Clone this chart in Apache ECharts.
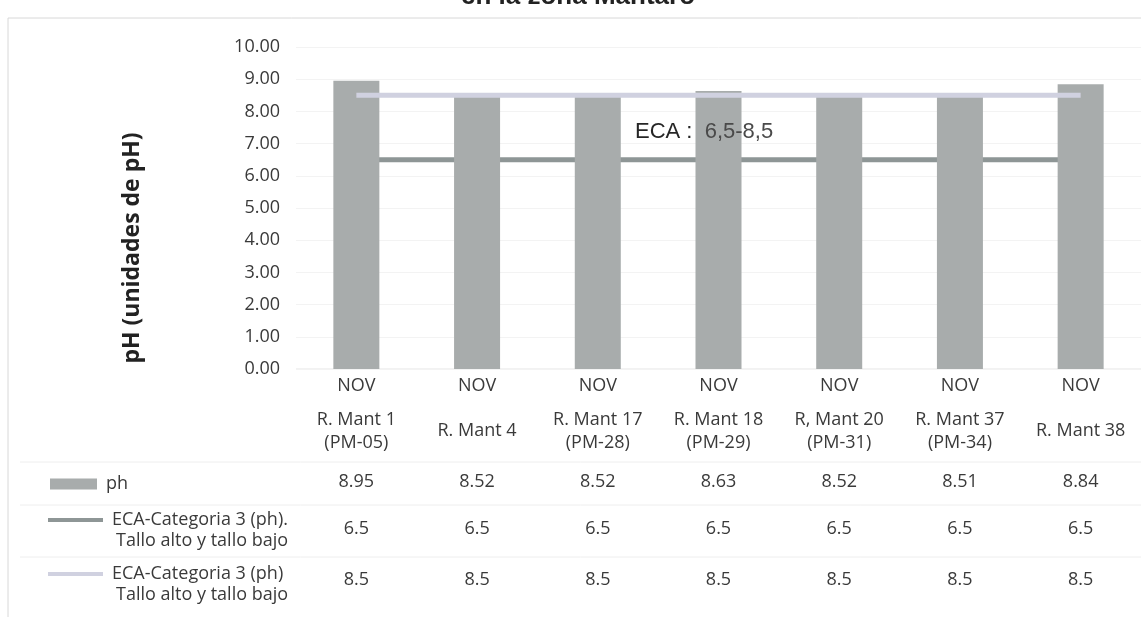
<!DOCTYPE html>
<html>
<head>
<meta charset="utf-8">
<script src="https://cdn.jsdelivr.net/npm/echarts@6/dist/echarts.min.js"></script>
<style>
  html, body { margin: 0; padding: 0; background: #fff; }
  #chart { width: 1141px; height: 617px; }
</style>
</head>
<body>
<div id="chart"></div>
<script>
const months = ['NOV', 'NOV', 'NOV', 'NOV', 'NOV', 'NOV', 'NOV'];
const stations = [
  'R. Mant 1\n(PM-05)', 'R. Mant 4', 'R. Mant 17\n(PM-28)', 'R. Mant 18\n(PM-29)',
  'R, Mant 20\n(PM-31)', 'R. Mant 37\n(PM-34)', 'R. Mant 38'
];
const phValues = [8.95, 8.52, 8.52, 8.63, 8.52, 8.51, 8.84];
const ecaLow = [6.5, 6.5, 6.5, 6.5, 6.5, 6.5, 6.5];
const ecaHigh = [8.5, 8.5, 8.5, 8.5, 8.5, 8.5, 8.5];
const yTicks = { min: 0, max: 10, interval: 1 };

const NAME_PH = 'ph';
const NAME_LOW = 'ECA-Categoria 3 (ph). Tallo alto y tallo bajo';
const NAME_HIGH = 'ECA-Categoria 3 (ph) Tallo alto y tallo bajo';

const FONT = '"Open Sans", "Noto Sans", sans-serif';
const TXT = '#3a3a3a';
const FS = 18;

const chart = echarts.init(document.getElementById('chart'), null, { renderer: 'canvas' });

// extra bottom axes act as the rows of the data table
function tableAxis(data, offset) {
  return {
    type: 'category',
    gridIndex: 0,
    position: 'bottom',
    offset: offset,
    data: data,
    axisLine: { show: false },
    axisTick: { show: false },
    axisLabel: {
      interval: 0, margin: 0, verticalAlign: 'middle',
      color: TXT, fontFamily: FONT, fontSize: FS, lineHeight: 23
    }
  };
}

function firstLine(name) {
  return name.replace(' Tallo alto y tallo bajo', '');
}

const legendText = { color: TXT, fontFamily: FONT, fontSize: FS, padding: [0, 0, 0, 4] };

chart.setOption({
  backgroundColor: '#fff',
  animation: false,
  grid: { left: 296, right: -15, top: 47, bottom: 248, containLabel: false },
  legend: [
    {
      data: [NAME_PH], left: 50, top: 475, padding: 0, itemWidth: 47, itemHeight: 11,
      icon: 'rect', textStyle: legendText, selectedMode: false
    },
    {
      data: [NAME_LOW], left: 48, top: 511, padding: 0, itemWidth: 55, itemHeight: 4,
      icon: 'rect', formatter: firstLine, textStyle: legendText, selectedMode: false
    },
    {
      data: [NAME_HIGH], left: 48, top: 565, padding: 0, itemWidth: 55, itemHeight: 4,
      icon: 'rect', formatter: firstLine, textStyle: legendText, selectedMode: false
    }
  ],
  xAxis: [
    {
      type: 'category',
      data: months,
      offset: 17,
      axisLine: { show: false },
      axisTick: { show: false },
      axisLabel: {
        interval: 0, margin: 0, verticalAlign: 'middle',
        color: TXT, fontFamily: FONT, fontSize: FS
      }
    },
    tableAxis(stations, 62),
    tableAxis(phValues.map(v => v.toFixed(2)), 113),
    tableAxis(ecaLow, 160),
    tableAxis(ecaHigh, 211)
  ],
  yAxis: {
    type: 'value',
    min: yTicks.min, max: yTicks.max, interval: yTicks.interval,
    axisLine: { show: false },
    axisTick: { show: false },
    axisLabel: {
      margin: 16, color: TXT, fontFamily: FONT, fontSize: FS,
      formatter: v => v.toFixed(2)
    },
    splitLine: { lineStyle: { color: '#f3f3f3' } }
  },
  series: [
    {
      name: NAME_LOW, type: 'line', data: ecaLow, z: 1,
      symbol: 'none', lineStyle: { color: '#8e9696', width: 5 },
      itemStyle: { color: '#8e9696' }
    },
    {
      name: NAME_PH, type: 'bar', data: phValues, z: 2, barWidth: 46,
      itemStyle: { color: '#a8acac' }
    },
    {
      name: NAME_HIGH, type: 'line', data: ecaHigh, z: 3,
      symbol: 'none', lineStyle: { color: '#d0d1e0', width: 5 },
      itemStyle: { color: '#d0d1e0' }
    }
  ],
  graphic: [
    {
      type: 'text', x: 578, y: -16, z: 100,
      style: {
        text: 'en la zona Mantaro', fill: '#222', align: 'center',
        font: 'bold 26px "Liberation Sans", Arial, sans-serif'
      }
    },
    {
      type: 'rect', silent: true, z: -10,
      shape: { x: 8, y: 18, width: 1140, height: 610 },
      style: { fill: 'none', stroke: '#d8d8d8', lineWidth: 1 }
    },
    {
      type: 'text', x: 132, y: 248, rotation: Math.PI / 2, z: 100,
      style: {
        text: 'pH (unidades de pH)', fill: '#222', align: 'center', verticalAlign: 'middle',
        font: 'bold 23px "Open Sans", "Noto Sans", sans-serif'
      }
    },
    {
      type: 'text', left: 635, top: 121, z: 100,
      style: {
        text: '{a|ECA :}  {b|6,5-8,5}',
        font: '22px "Liberation Sans", Arial, sans-serif',
        rich: {
          a: { fill: '#262626', font: '22px "Liberation Sans", Arial, sans-serif' },
          b: { fill: '#4a4a4a', font: '22px "Liberation Sans", Arial, sans-serif' }
        }
      }
    },
    {
      type: 'text', left: 116, top: 532, z: 100,
      style: { text: 'Tallo alto y tallo bajo', fill: TXT, font: FS + 'px "Open Sans", "Noto Sans", sans-serif' }
    },
    {
      type: 'text', left: 116, top: 586, z: 100,
      style: { text: 'Tallo alto y tallo bajo', fill: TXT, font: FS + 'px "Open Sans", "Noto Sans", sans-serif' }
    },
    {
      type: 'polyline', silent: true, z: -5,
      shape: { points: [[296, 369], [1141, 369]] },
      style: { stroke: '#e4e4e4', lineWidth: 1 }
    },
    {
      type: 'polyline', silent: true, z: -5,
      shape: { points: [[20, 462], [1141, 462]] },
      style: { stroke: '#eeeeee', lineWidth: 1 }
    },
    {
      type: 'polyline', silent: true, z: -5,
      shape: { points: [[20, 505], [1141, 505]] },
      style: { stroke: '#eeeeee', lineWidth: 1 }
    },
    {
      type: 'polyline', silent: true, z: -5,
      shape: { points: [[20, 557], [1141, 557]] },
      style: { stroke: '#eeeeee', lineWidth: 1 }
    }
  ]
});
</script>
</body>
</html>
